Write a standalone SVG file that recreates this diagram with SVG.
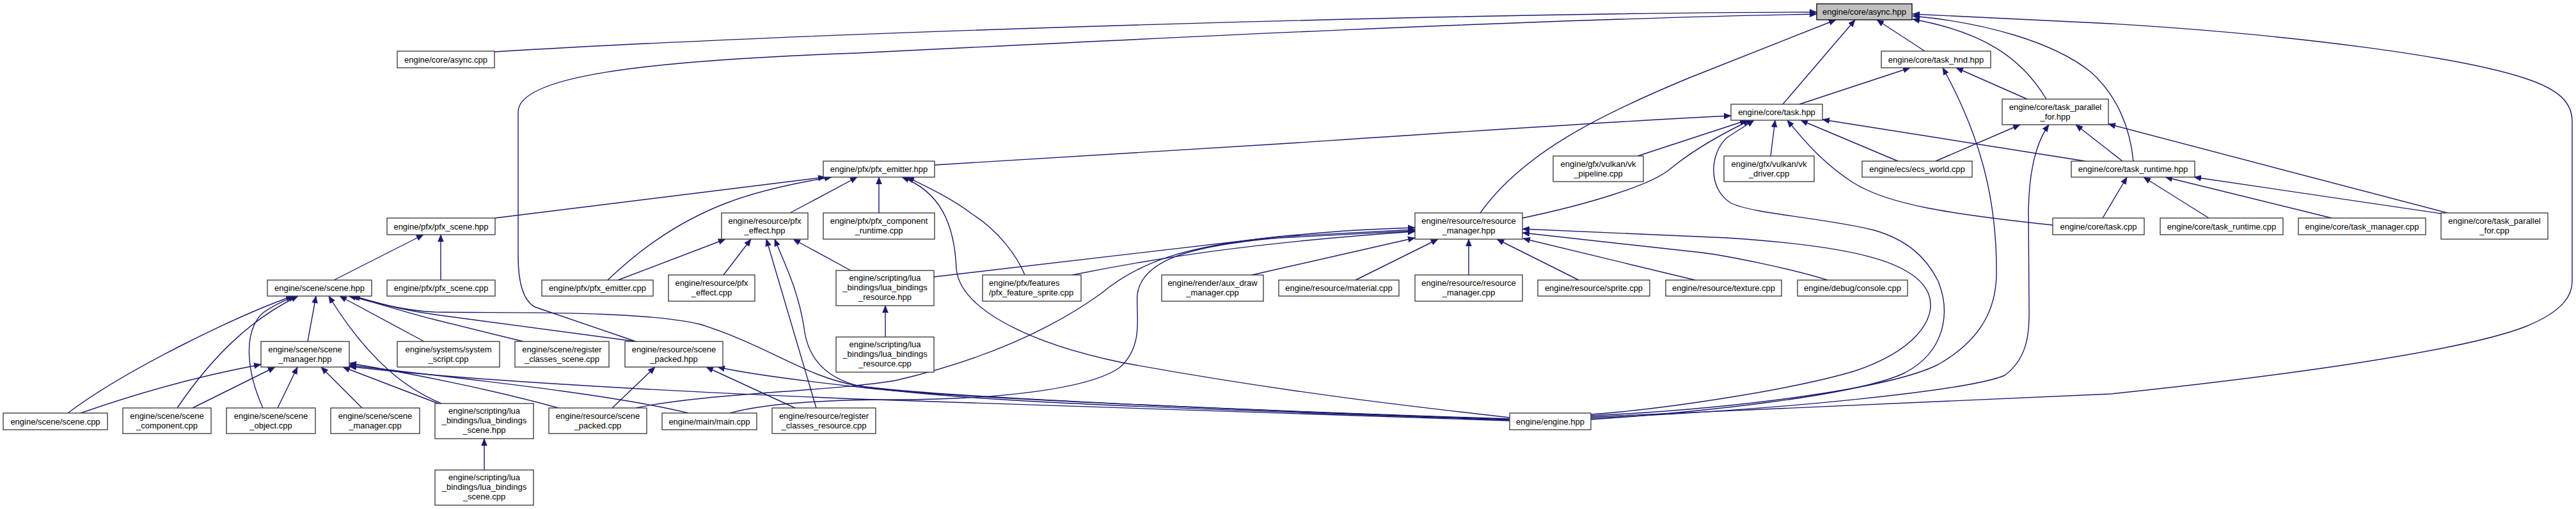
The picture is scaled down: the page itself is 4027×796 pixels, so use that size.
<svg xmlns="http://www.w3.org/2000/svg" width="4027" height="796" viewBox="0 0 4027 796">
<style>
.n rect{fill:#fff;stroke:#333;stroke-width:1.3}
.root rect{fill:#bfbfbf;stroke:#000}
.n text{font-family:"Liberation Sans",Arial,sans-serif;font-size:13px;fill:#000;text-anchor:middle}
.n text.l{text-anchor:start}
#edges path{fill:none;stroke:#191970;stroke-width:1.4;marker-end:url(#arr)}
</style>
<defs>
<marker id="arr" markerWidth="11" markerHeight="10" refX="11" refY="5" orient="auto" markerUnits="userSpaceOnUse"><path d="M0,0.5 L11,5 L0,9.5 z" fill="#191970" stroke="#191970" stroke-width="0.6"/></marker>
</defs>
<rect width="4027" height="796" fill="#fff"/>
<g id="edges">
<path d="M773,81 C1300,49 2300,20 2840,19"/>
<path d="M994,534 L836,480 C818,470 810,440 810,400 L810,175 C810,120 1000,95 1340,83 C1800,60 2400,30 2840,22"/>
<path d="M2787,163 L2900,31"/>
<path d="M2314,333 C2380,240 2500,180 2640,122 L2870,31"/>
<path d="M3009,80 L2934,31"/>
<path d="M3199,155 C3160,90 3100,50 2990,30"/>
<path d="M3335,252 C3330,200 3310,150 3269,113 C3210,65 3100,35 2990,25"/>
<path d="M2487,652 L3300,616 C3550,590 3850,550 3950,510 C4010,485 4021,460 4021,440 L4021,190 C4021,160 4000,140 3949,123 C3850,90 3600,55 3300,37 L2990,22"/>
<path d="M2813,163 L2986,106"/>
<path d="M3169,155 L3058,106"/>
<path d="M2487,650 C2700,640 2950,610 3030,570 C3100,530 3120,480 3121,430 C3122,320 3100,220 3037,106"/>
<path d="M2487,654 C2800,640 3080,610 3134,587 C3170,560 3173,520 3172,480 L3171,330 C3172,260 3185,220 3203,195"/>
<path d="M2487,656 C2650,645 2900,620 2978,583 C3040,550 3050,490 3030,440 C3010,400 2980,375 2930,360 C2850,340 2740,335 2705,317 C2670,295 2672,240 2700,215 L2742,188"/>
<path d="M1461,258 L2000,225 C2300,205 2550,188 2706,181"/>
<path d="M2560,244 L2731,188"/>
<path d="M2380,341 C2480,320 2580,290 2610,265 C2640,240 2680,215 2736,188"/>
<path d="M2768,244 L2775,188"/>
<path d="M2967,252 L2815,188"/>
<path d="M3260,252 L2849,187"/>
<path d="M3209,352 C3050,335 2950,320 2896,285 C2850,255 2820,220 2794,188"/>
<path d="M3026,252 L3158,195"/>
<path d="M3318,252 L3245,195"/>
<path d="M3826,333 L3296,194"/>
<path d="M3287,341 L3325,277"/>
<path d="M3453,341 L3351,277"/>
<path d="M3645,341 L3385,277"/>
<path d="M3816,334 L3430,277"/>
<path d="M774,341 L1290,277"/>
<path d="M950,438 C990,400 1050,350 1137,317 C1190,297 1250,285 1300,277"/>
<path d="M1235,333 L1340,277"/>
<path d="M1374,333 L1374,277"/>
<path d="M2360,653 C2200,635 2000,612 1754,567 C1600,535 1500,480 1495,420 C1492,350 1470,300 1410,277"/>
<path d="M1602,430 C1590,400 1560,360 1520,335 C1490,312 1455,295 1418,277"/>
<path d="M966,438 L1134,374"/>
<path d="M1131,430 L1174,374"/>
<path d="M1276,638 L1198,374"/>
<path d="M2360,656 C1900,640 1450,620 1340,603 C1290,590 1265,560 1258,520 C1250,460 1230,420 1211,374"/>
<path d="M1330,423 L1240,374"/>
<path d="M522,438 L662,367"/>
<path d="M689,438 L689,367"/>
<path d="M1460,433 L2000,370 C2100,360 2150,358 2212,356"/>
<path d="M1676,430 C1800,405 1950,380 2212,362"/>
<path d="M994,638 C1100,615 1300,612 1400,595 C1550,560 1650,510 1720,460 C1780,410 1850,385 2000,370 L2212,359"/>
<path d="M1141,646 C1200,630 1300,625 1400,625 C1550,625 1700,610 1750,575 C1790,540 1775,490 1778,460 C1785,410 1850,385 2000,372 L2212,361"/>
<path d="M1957,430 L2212,372"/>
<path d="M2119,438 L2248,374"/>
<path d="M2296,430 L2296,374"/>
<path d="M2468,438 L2340,374"/>
<path d="M2650,438 L2381,373"/>
<path d="M2857,438 C2800,420 2700,400 2660,395 L2380,364"/>
<path d="M2487,648 C2600,640 2800,610 2900,580 C2990,550 3030,500 3015,460 C2995,410 2900,385 2700,372 L2380,358"/>
<path d="M106,646 C200,575 380,490 458,463"/>
<path d="M277,638 C330,560 390,500 466,463"/>
<path d="M411,638 C385,580 380,520 410,490 C430,475 450,468 462,463"/>
<path d="M481,534 L494,463"/>
<path d="M690,631 C640,610 580,570 514,463"/>
<path d="M663,534 L531,463"/>
<path d="M818,534 L680,500 C620,485 580,470 545,463"/>
<path d="M994,534 L680,492 C620,484 580,470 549,463"/>
<path d="M2360,657 C1900,640 1500,630 1340,603 C1260,590 1200,540 1094,507 C1000,485 800,490 680,488 C620,485 580,470 552,463"/>
<path d="M126,646 C200,620 300,590 408,570"/>
<path d="M301,638 L430,574"/>
<path d="M434,638 L465,574"/>
<path d="M566,638 L502,574"/>
<path d="M685,631 L536,574"/>
<path d="M873,638 C780,612 650,585 546,568"/>
<path d="M1076,646 C950,615 700,590 546,571"/>
<path d="M2360,658 L1340,624 C1000,610 700,592 546,573"/>
<path d="M957,638 L1024,574"/>
<path d="M1243,638 L1104,574"/>
<path d="M2360,655 C1900,640 1450,620 1340,605 C1250,595 1170,585 1122,574"/>
<path d="M1384,527 L1384,478"/>
<path d="M757,735 L757,686"/>
</g>
<g id="n_async_hpp" class="n root"><rect x="2840" y="6" width="149" height="25"/><text x="2914.5" y="23">engine/core/async.hpp</text></g>
<g id="n_async_cpp" class="n"><rect x="621" y="80" width="152" height="26"/><text x="697" y="97.5">engine/core/async.cpp</text></g>
<g id="n_task_hnd_hpp" class="n"><rect x="2941" y="80" width="171" height="26"/><text x="3026.5" y="97.5">engine/core/task_hnd.hpp</text></g>
<g id="n_task_hpp" class="n"><rect x="2706" y="163" width="143" height="25"/><text x="2777.5" y="180">engine/core/task.hpp</text></g>
<g id="n_task_parallel_for_hpp" class="n"><rect x="3130" y="155" width="166" height="40"/><text x="3213" y="172">engine/core/task_parallel</text><text x="3213" y="187">_for.hpp</text></g>
<g id="n_pfx_emitter_hpp" class="n"><rect x="1287" y="252" width="174" height="25"/><text x="1374" y="269">engine/pfx/pfx_emitter.hpp</text></g>
<g id="n_vk_pipeline_cpp" class="n"><rect x="2428" y="244" width="141" height="40"/><text x="2498.5" y="261">engine/gfx/vulkan/vk</text><text x="2498.5" y="276">_pipeline.cpp</text></g>
<g id="n_vk_driver_cpp" class="n"><rect x="2695" y="244" width="141" height="40"/><text x="2765.5" y="261">engine/gfx/vulkan/vk</text><text x="2765.5" y="276">_driver.cpp</text></g>
<g id="n_ecs_world_cpp" class="n"><rect x="2911" y="252" width="172" height="25"/><text x="2997" y="269">engine/ecs/ecs_world.cpp</text></g>
<g id="n_task_runtime_hpp" class="n"><rect x="3238" y="252" width="193" height="25"/><text x="3334.5" y="269">engine/core/task_runtime.hpp</text></g>
<g id="n_pfx_scene_hpp" class="n"><rect x="605" y="341" width="169" height="26"/><text x="689.5" y="358.5">engine/pfx/pfx_scene.hpp</text></g>
<g id="n_pfx_effect_hpp" class="n"><rect x="1128" y="333" width="135" height="41"/><text x="1195.5" y="350">engine/resource/pfx</text><text x="1195.5" y="365">_effect.hpp</text></g>
<g id="n_pfx_component_runtime_cpp" class="n"><rect x="1287" y="333" width="174" height="41"/><text x="1374" y="350">engine/pfx/pfx_component</text><text x="1374" y="365">_runtime.cpp</text></g>
<g id="n_resource_manager_hpp" class="n"><rect x="2212" y="333" width="168" height="41"/><text x="2296" y="350">engine/resource/resource</text><text x="2296" y="365">_manager.hpp</text></g>
<g id="n_task_cpp" class="n"><rect x="3209" y="341" width="143" height="26"/><text x="3280.5" y="358.5">engine/core/task.cpp</text></g>
<g id="n_task_runtime_cpp" class="n"><rect x="3377" y="341" width="192" height="26"/><text x="3473" y="358.5">engine/core/task_runtime.cpp</text></g>
<g id="n_task_manager_cpp" class="n"><rect x="3593" y="341" width="199" height="26"/><text x="3692.5" y="358.5">engine/core/task_manager.cpp</text></g>
<g id="n_task_parallel_for_cpp" class="n"><rect x="3816" y="333" width="167" height="41"/><text x="3899.5" y="350">engine/core/task_parallel</text><text x="3899.5" y="365">_for.cpp</text></g>
<g id="n_scene_hpp" class="n"><rect x="418" y="438" width="163" height="25"/><text x="499.5" y="455">engine/scene/scene.hpp</text></g>
<g id="n_pfx_scene_cpp" class="n"><rect x="605" y="438" width="169" height="25"/><text x="689.5" y="455">engine/pfx/pfx_scene.cpp</text></g>
<g id="n_pfx_emitter_cpp" class="n"><rect x="847" y="438" width="174" height="25"/><text x="934" y="455">engine/pfx/pfx_emitter.cpp</text></g>
<g id="n_pfx_effect_cpp" class="n"><rect x="1045" y="430" width="135" height="41"/><text x="1112.5" y="447">engine/resource/pfx</text><text x="1112.5" y="462">_effect.cpp</text></g>
<g id="n_lua_bindings_resource_hpp" class="n"><rect x="1307" y="423" width="153" height="55"/><text x="1383.5" y="439">engine/scripting/lua</text><text x="1383.5" y="454">_bindings/lua_bindings</text><text x="1383.5" y="469">_resource.hpp</text></g>
<g id="n_pfx_feature_sprite_cpp" class="n"><rect x="1536" y="430" width="154" height="41"/><text class="l" x="1546" y="447">engine/pfx/features</text><text class="l" x="1546" y="462">/pfx_feature_sprite.cpp</text></g>
<g id="n_aux_draw_manager_cpp" class="n"><rect x="1816" y="430" width="159" height="41"/><text x="1895.5" y="447">engine/render/aux_draw</text><text x="1895.5" y="462">_manager.cpp</text></g>
<g id="n_material_cpp" class="n"><rect x="1999" y="438" width="188" height="25"/><text x="2093" y="455">engine/resource/material.cpp</text></g>
<g id="n_resource_manager_cpp" class="n"><rect x="2212" y="430" width="168" height="41"/><text x="2296" y="447">engine/resource/resource</text><text x="2296" y="462">_manager.cpp</text></g>
<g id="n_sprite_cpp" class="n"><rect x="2404" y="438" width="175" height="25"/><text x="2491.5" y="455">engine/resource/sprite.cpp</text></g>
<g id="n_texture_cpp" class="n"><rect x="2604" y="438" width="181" height="25"/><text x="2694.5" y="455">engine/resource/texture.cpp</text></g>
<g id="n_console_cpp" class="n"><rect x="2810" y="438" width="172" height="25"/><text x="2896" y="455">engine/debug/console.cpp</text></g>
<g id="n_scene_manager_hpp" class="n"><rect x="408" y="534" width="138" height="40"/><text x="477" y="551">engine/scene/scene</text><text x="477" y="566">_manager.hpp</text></g>
<g id="n_system_script_cpp" class="n"><rect x="621" y="534" width="160" height="40"/><text x="701" y="551">engine/systems/system</text><text x="701" y="566">_script.cpp</text></g>
<g id="n_register_classes_scene_cpp" class="n"><rect x="805" y="534" width="147" height="40"/><text x="878.5" y="551">engine/scene/register</text><text x="878.5" y="566">_classes_scene.cpp</text></g>
<g id="n_scene_packed_hpp" class="n"><rect x="977" y="534" width="153" height="40"/><text x="1053.5" y="551">engine/resource/scene</text><text x="1053.5" y="566">_packed.hpp</text></g>
<g id="n_lua_bindings_resource_cpp" class="n"><rect x="1307" y="527" width="153" height="55"/><text x="1383.5" y="543">engine/scripting/lua</text><text x="1383.5" y="558">_bindings/lua_bindings</text><text x="1383.5" y="573">_resource.cpp</text></g>
<g id="n_scene_cpp" class="n"><rect x="5" y="646" width="163" height="26"/><text x="86.5" y="663.5">engine/scene/scene.cpp</text></g>
<g id="n_scene_component_cpp" class="n"><rect x="192" y="638" width="138" height="40"/><text x="261" y="655">engine/scene/scene</text><text x="261" y="670">_component.cpp</text></g>
<g id="n_scene_object_cpp" class="n"><rect x="354" y="638" width="139" height="40"/><text x="423.5" y="655">engine/scene/scene</text><text x="423.5" y="670">_object.cpp</text></g>
<g id="n_scene_manager_cpp" class="n"><rect x="517" y="638" width="139" height="40"/><text x="586.5" y="655">engine/scene/scene</text><text x="586.5" y="670">_manager.cpp</text></g>
<g id="n_lua_bindings_scene_hpp" class="n"><rect x="680" y="631" width="154" height="55"/><text x="757" y="647">engine/scripting/lua</text><text x="757" y="662">_bindings/lua_bindings</text><text x="757" y="677">_scene.hpp</text></g>
<g id="n_scene_packed_cpp" class="n"><rect x="858" y="638" width="153" height="40"/><text x="934.5" y="655">engine/resource/scene</text><text x="934.5" y="670">_packed.cpp</text></g>
<g id="n_main_cpp" class="n"><rect x="1035" y="646" width="148" height="26"/><text x="1109" y="663.5">engine/main/main.cpp</text></g>
<g id="n_register_classes_resource_cpp" class="n"><rect x="1207" y="638" width="162" height="40"/><text x="1288" y="655">engine/resource/register</text><text x="1288" y="670">_classes_resource.cpp</text></g>
<g id="n_engine_hpp" class="n"><rect x="2360" y="646" width="127" height="26"/><text x="2423.5" y="663.5">engine/engine.hpp</text></g>
<g id="n_lua_bindings_scene_cpp" class="n"><rect x="680" y="735" width="154" height="55"/><text x="757" y="751">engine/scripting/lua</text><text x="757" y="766">_bindings/lua_bindings</text><text x="757" y="781">_scene.cpp</text></g>
</svg>
